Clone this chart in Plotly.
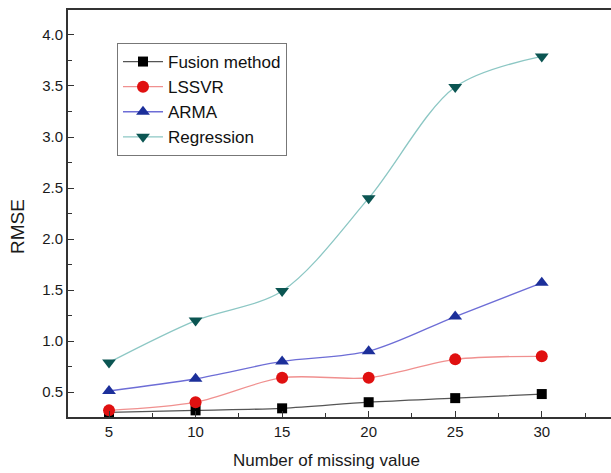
import plotly.graph_objects as go

x_vals = [5, 10, 15, 20, 25, 30]
fusion = [0.30, 0.32, 0.34, 0.40, 0.44, 0.48]
lssvr = [0.32, 0.40, 0.64, 0.64, 0.82, 0.85]
arma = [0.51, 0.63, 0.80, 0.90, 1.24, 1.57]
regression = [0.79, 1.20, 1.49, 2.40, 3.49, 3.79]

y_ticks = [0.5, 1.0, 1.5, 2.0, 2.5, 3.0, 3.5, 4.0]
y_ticklabels = ["0.5", "1.0", "1.5", "2.0", "2.5", "3.0", "3.5", "4.0"]
x_ticks = [5, 10, 15, 20, 25, 30]
x_title = "Number of missing value"
y_title = "RMSE"

series = [
    ("Fusion method", fusion, "#555555", "#000000", "square", 10),
    ("LSSVR", lssvr, "#f0908f", "#e01010", "circle", 12),
    ("ARMA", arma, "#6d6dd6", "#1c2f9a", "triangle-up", 12),
    ("Regression", regression, "#8cc7c4", "#0b5552", "triangle-down", 12),
]

W, H = 611, 473
ML, MR, MT, MB = 68, 0, 10, 56

fig = go.Figure()
for name, vals, lc, mc, sym, ms in series:
    fig.add_trace(go.Scatter(
        x=x_vals, y=vals, name=name, mode="lines+markers",
        line=dict(color=lc, width=1.3, shape="spline", smoothing=0.9),
        marker=dict(color=mc, symbol=sym, size=ms),
    ))

font_family = "Liberation Sans, Arial, sans-serif"
pw = W - ML - MR
ph = H - MT - MB
fig.update_layout(
    width=W, height=H,
    margin=dict(l=ML, r=MR, t=MT, b=MB),
    paper_bgcolor="white", plot_bgcolor="white",
    font=dict(family=font_family, color="#1a1a1a"),
    showlegend=True,
    legend=dict(
        x=(117 - ML) / pw, y=(H - MB - 43) / ph, xanchor="left", yanchor="top",
        bordercolor="#777777", borderwidth=1, bgcolor="white",
        font=dict(size=17, family=font_family, color="#111111"),
        itemwidth=40, tracegroupgap=0,
    ),
    xaxis=dict(
        range=[2.63, 34.0], tickvals=x_ticks, ticks="inside", ticklen=6,
        tickcolor="#333333", showline=True, linecolor="#333333", linewidth=2,
        mirror=True, showgrid=False, zeroline=False,
        tickfont=dict(size=15),
        minor=dict(dtick=2.5, tick0=0, ticks="inside", ticklen=4, tickcolor="#333333"),
    ),
    yaxis=dict(
        range=[0.255, 4.245], tickvals=y_ticks, ticktext=y_ticklabels,
        ticks="inside", ticklen=6, tickcolor="#333333",
        showline=True, linecolor="#333333", linewidth=2, mirror=False,
        showgrid=False, zeroline=False, tickfont=dict(size=15),
        minor=dict(dtick=0.25, tick0=0, ticks="inside", ticklen=4, tickcolor="#333333"),
    ),
    annotations=[
        dict(text=x_title, xref="paper", yref="paper",
             x=(326 - ML) / pw, y=(H - MB - 460) / ph, xanchor="center", yanchor="middle",
             showarrow=False, font=dict(size=17, color="#1a1a1a")),
        dict(text=y_title, xref="paper", yref="paper", textangle=-90,
             x=(17 - ML) / pw, y=(H - MB - 227) / ph, xanchor="center", yanchor="middle",
             showarrow=False, font=dict(size=19, color="#1a1a1a")),
    ],
)

fig.write_html(
    "out.html",
    config={"displayModeBar": False},
    post_script="document.body.style.margin='0';document.body.style.overflow='hidden';",
)
